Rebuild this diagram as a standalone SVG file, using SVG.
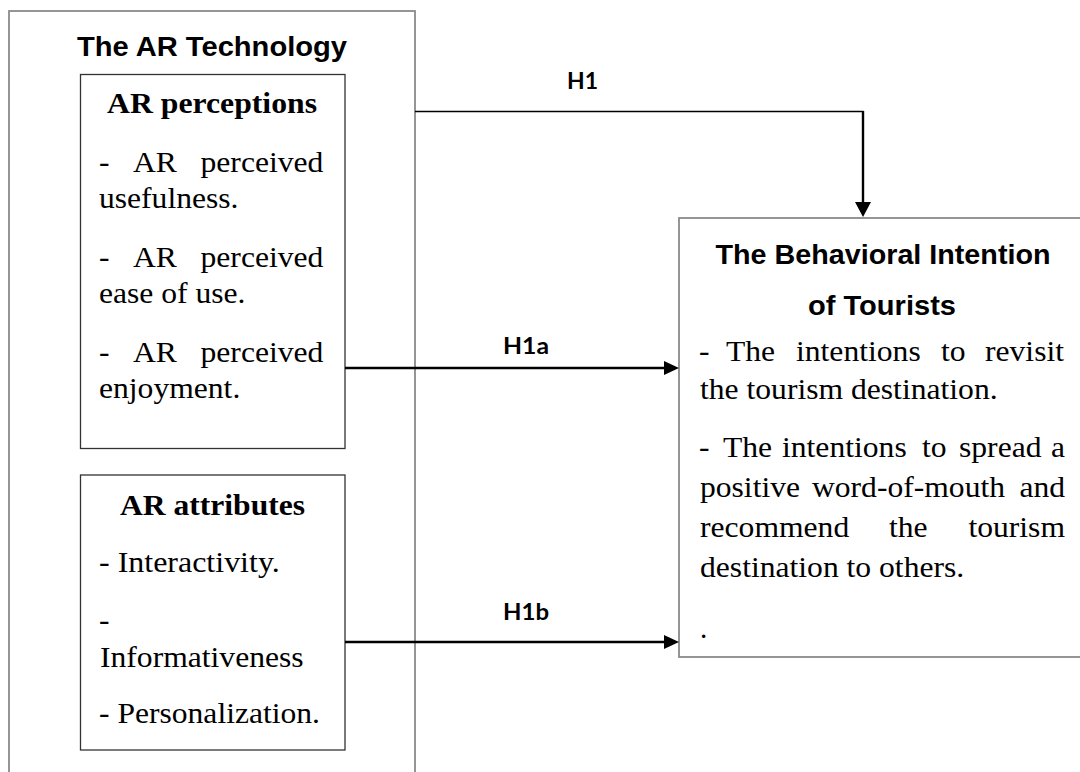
<svg xmlns="http://www.w3.org/2000/svg" width="1080" height="772" viewBox="0 0 1080 772">
<style>
.outer{fill:none;stroke:#8a8a8a;stroke-width:1.8}
.inner{fill:#fff;stroke:#333;stroke-width:1.3}
.ttl{font-family:"Liberation Sans",Arial,sans-serif;font-weight:bold;font-size:27px;fill:#000}
.hd{font-family:"Liberation Serif","Times New Roman",serif;font-weight:bold;font-size:29px;fill:#000}
.tx{font-family:"Liberation Serif","Times New Roman",serif;font-size:29px;fill:#000}
.lbl{font-family:Lato,"Liberation Sans",sans-serif;font-weight:bold;font-size:23px;fill:#000}
.ln{fill:none;stroke:#000}
</style>
<defs>
<marker id="ah" viewBox="0 0 15 14" refX="0" refY="7" markerWidth="15" markerHeight="14" markerUnits="userSpaceOnUse" orient="auto">
<path d="M0,0 L15,7 L0,14 z" fill="#000"/>
</marker>
<marker id="ahv" viewBox="0 0 15 16" refX="0" refY="8" markerWidth="15" markerHeight="16" markerUnits="userSpaceOnUse" orient="auto">
<path d="M0,0 L15,8 L0,16 z" fill="#000"/>
</marker>
</defs>
<rect width="1080" height="772" fill="#fff"/>

<g id="ar-technology">
<rect class="outer" x="9" y="11" width="406" height="800"/>
<text class="ttl" x="77" y="56" textLength="270" lengthAdjust="spacingAndGlyphs">The AR Technology</text>
</g>

<g id="ar-perceptions">
<rect class="inner" x="80.5" y="74.5" width="264.5" height="374"/>
<text class="hd" x="107" y="113" textLength="210" lengthAdjust="spacingAndGlyphs">AR perceptions</text>
<text class="tx" x="99" y="172" textLength="10.5" lengthAdjust="spacingAndGlyphs">-</text>
<text class="tx" x="133" y="172" textLength="43.9" lengthAdjust="spacingAndGlyphs">AR</text>
<text class="tx" x="200.5" y="172" textLength="122.9" lengthAdjust="spacingAndGlyphs">perceived</text>
<text class="tx" x="99" y="208" textLength="139.5" lengthAdjust="spacingAndGlyphs">usefulness.</text>
<text class="tx" x="99" y="267" textLength="10.5" lengthAdjust="spacingAndGlyphs">-</text>
<text class="tx" x="133" y="267" textLength="43.9" lengthAdjust="spacingAndGlyphs">AR</text>
<text class="tx" x="200.5" y="267" textLength="122.9" lengthAdjust="spacingAndGlyphs">perceived</text>
<text class="tx" x="99" y="303" textLength="146.5" lengthAdjust="spacingAndGlyphs">ease of use.</text>
<text class="tx" x="99" y="362" textLength="10.5" lengthAdjust="spacingAndGlyphs">-</text>
<text class="tx" x="133" y="362" textLength="43.9" lengthAdjust="spacingAndGlyphs">AR</text>
<text class="tx" x="200.5" y="362" textLength="122.9" lengthAdjust="spacingAndGlyphs">perceived</text>
<text class="tx" x="99" y="398" textLength="141.3" lengthAdjust="spacingAndGlyphs">enjoyment.</text>
</g>

<g id="ar-attributes">
<rect class="inner" x="80.5" y="475" width="264.5" height="275"/>
<text class="hd" x="120" y="515" textLength="185" lengthAdjust="spacingAndGlyphs">AR attributes</text>
<text class="tx" x="99" y="572" textLength="180.8" lengthAdjust="spacingAndGlyphs">- Interactivity.</text>
<text class="tx" x="99" y="630" textLength="10.5" lengthAdjust="spacingAndGlyphs">-</text>
<text class="tx" x="100" y="667" textLength="203.6" lengthAdjust="spacingAndGlyphs">Informativeness</text>
<text class="tx" x="99" y="723" textLength="221" lengthAdjust="spacingAndGlyphs">- Personalization.</text>
</g>

<g id="behavioral-intention">
<rect class="outer" x="679" y="218" width="410" height="439"/>
<text class="ttl" x="883" y="264" text-anchor="middle" textLength="335" lengthAdjust="spacingAndGlyphs">The Behavioral Intention</text>
<text class="ttl" x="882" y="315" text-anchor="middle" textLength="148" lengthAdjust="spacingAndGlyphs">of Tourists</text>
<text class="tx" x="699" y="361" textLength="10.5" lengthAdjust="spacingAndGlyphs">-</text>
<text class="tx" x="726" y="361" textLength="49.1" lengthAdjust="spacingAndGlyphs">The</text>
<text class="tx" x="796" y="361" textLength="124.7" lengthAdjust="spacingAndGlyphs">intentions</text>
<text class="tx" x="941" y="361" textLength="24.6" lengthAdjust="spacingAndGlyphs">to</text>
<text class="tx" x="985" y="361" textLength="79" lengthAdjust="spacingAndGlyphs">revisit</text>
<text class="tx" x="700" y="399" textLength="297.6" lengthAdjust="spacingAndGlyphs">the tourism destination.</text>
<text class="tx" x="699" y="457" textLength="10.5" lengthAdjust="spacingAndGlyphs">-</text>
<text class="tx" x="723" y="457" textLength="49.1" lengthAdjust="spacingAndGlyphs">The</text>
<text class="tx" x="782" y="457" textLength="124.7" lengthAdjust="spacingAndGlyphs">intentions</text>
<text class="tx" x="922" y="457" textLength="24.6" lengthAdjust="spacingAndGlyphs">to</text>
<text class="tx" x="959" y="457" textLength="82.5" lengthAdjust="spacingAndGlyphs">spread</text>
<text class="tx" x="1051" y="457" textLength="14" lengthAdjust="spacingAndGlyphs">a</text>
<text class="tx" x="700" y="497" textLength="100" lengthAdjust="spacingAndGlyphs">positive</text>
<text class="tx" x="812" y="497" textLength="193" lengthAdjust="spacingAndGlyphs">word-of-mouth</text>
<text class="tx" x="1019.4" y="497" textLength="45.6" lengthAdjust="spacingAndGlyphs">and</text>
<text class="tx" x="700" y="537" textLength="149.2" lengthAdjust="spacingAndGlyphs">recommend</text>
<text class="tx" x="889" y="537" textLength="38.6" lengthAdjust="spacingAndGlyphs">the</text>
<text class="tx" x="968.4" y="537" textLength="96.6" lengthAdjust="spacingAndGlyphs">tourism</text>
<text class="tx" x="700" y="577" textLength="264.2" lengthAdjust="spacingAndGlyphs">destination to others.</text>
<text class="tx" x="700" y="638">.</text>
</g>

<g id="connectors">
<line class="ln" x1="415" y1="111.5" x2="863.5" y2="111.5" stroke-width="1.4"/>
<line class="ln" x1="863" y1="111" x2="863" y2="202" stroke-width="2.4" marker-end="url(#ahv)"/>
<line class="ln" x1="345" y1="368" x2="664" y2="368" stroke-width="2.5" marker-end="url(#ah)"/>
<line class="ln" x1="345" y1="642" x2="664" y2="642" stroke-width="2.5" marker-end="url(#ah)"/>
<text class="lbl" x="567" y="89" textLength="31" lengthAdjust="spacingAndGlyphs">H1</text>
<text class="lbl" x="503" y="354" textLength="46" lengthAdjust="spacingAndGlyphs">H1a</text>
<text class="lbl" x="503" y="620" textLength="46" lengthAdjust="spacingAndGlyphs">H1b</text>
</g>
</svg>
